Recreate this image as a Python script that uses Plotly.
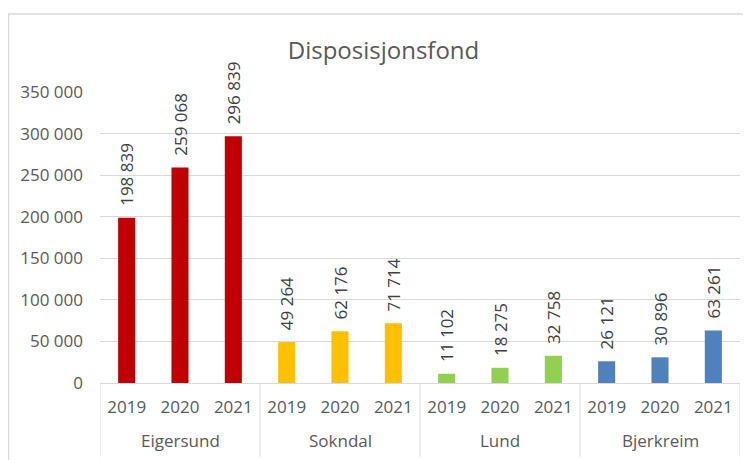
import plotly.graph_objects as go

groups = ["Eigersund", "Sokndal", "Lund", "Bjerkreim"]
years = ["2019", "2020", "2021"]
values = {
    "Eigersund": [198839, 259068, 296839],
    "Sokndal": [49264, 62176, 71714],
    "Lund": [11102, 18275, 32758],
    "Bjerkreim": [26121, 30896, 63261],
}
colors = {
    "Eigersund": "#C00000",
    "Sokndal": "#FFC000",
    "Lund": "#92D050",
    "Bjerkreim": "#4F81BD",
}
y_ticks = [0, 50000, 100000, 150000, 200000, 250000, 300000, 350000]

cats, ticktext, yv, cv = [], [], [], []
for g in groups:
    for yr, v in zip(years, values[g]):
        cats.append(f"{g} {yr}")
        ticktext.append(yr)
        yv.append(v)
        cv.append(colors[g])

FONT = "Open Sans"
GREY = "#595959"
LINE = "#d9d9d9"
FS = 17
n = len(cats)
per = len(years)

fig = go.Figure(go.Bar(
    x=cats, y=yv,
    marker=dict(color=cv, line=dict(width=0)),
    texttemplate="\u00a0\u00a0%{y:,}", textposition="outside", textangle=-90,
    textfont=dict(family=FONT, size=FS, color="#404040"),
    constraintext="none", cliponaxis=False,
))

shapes = [dict(type="rect", xref="paper", yref="paper", x0=-0.143, x1=1.2, y0=-0.6, y1=1.268,
               line=dict(color=LINE, width=1.5), fillcolor="rgba(0,0,0,0)", layer="below")]
for i in range(len(groups) + 1):
    xpos = i * per - 0.5
    shapes.append(dict(type="line", xref="x", yref="paper", x0=xpos, x1=xpos, y0=0, y1=-0.254,
                       line=dict(color=LINE, width=1)))

annotations = []
for i, g in enumerate(groups):
    annotations.append(dict(text=g, xref="x", yref="paper", x=i * per + (per - 1) / 2, y=-0.199,
                            xanchor="center", yanchor="middle", showarrow=False,
                            font=dict(family=FONT, size=FS, color=GREY)))

fig.update_layout(
    width=743, height=452,
    margin=dict(l=92, r=11, t=84, b=77),
    paper_bgcolor="white", plot_bgcolor="white",
    separators=", ",
    bargap=0.68,
    showlegend=False,
    title=dict(text="Disposisjonsfond", x=0.5054, xanchor="center", y=0.905, yanchor="middle",
               font=dict(family=FONT, size=24, color=GREY)),
    font=dict(family=FONT, size=FS, color=GREY),
    xaxis=dict(type="category", range=[-0.5, n - 0.5], tickvals=cats, ticktext=ticktext,
               showline=True, linecolor=LINE, linewidth=1, showgrid=False,
               ticks="", tickfont=dict(family=FONT, size=FS, color=GREY),
               ticklabelstandoff=9, automargin=False),
    yaxis=dict(range=[0, 350000], tickvals=y_ticks, tickformat=",", showgrid=True,
               gridcolor=LINE, gridwidth=1, zeroline=False, showline=False,
               tickfont=dict(family=FONT, size=FS, color=GREY), ticklabelstandoff=16,
               automargin=False),
    shapes=shapes,
    annotations=annotations,
)

fig.write_html("out.html")
